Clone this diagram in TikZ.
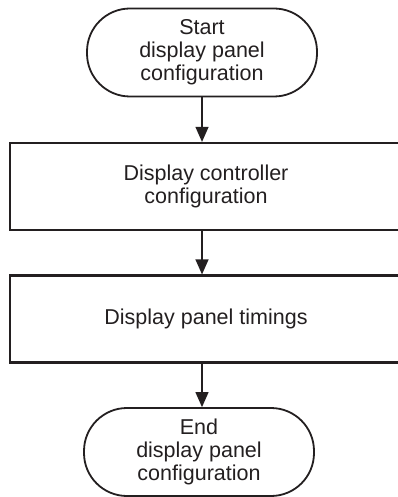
\documentclass[tikz,border=0pt]{standalone}
\usepackage{fontspec}
\setmainfont{Liberation Sans}
\usepackage{tikz}
\usetikzlibrary{arrows.meta}
\definecolor{ink}{HTML}{231F20}

\begin{document}
\begin{tikzpicture}[x=1pt,y=-1pt,
  terminal/.style={draw=ink,line width=1.8pt,rounded corners=43pt,minimum width=230pt,minimum height=88pt,align=center,inner sep=0pt},
  procbox/.style={draw=ink,line width=2.2pt,minimum width=392pt,minimum height=87pt,align=center,inner sep=0pt},
  flow/.style={draw=ink,line width=1.2pt,-{Triangle[length=15pt,width=13pt]}},
  font=\fontsize{21.5pt}{23pt}\selectfont, text=ink]
\useasboundingbox (0,0) rectangle (398,497);
\node[terminal] (start) at (202,52.5) {Start\\display panel\\configuration};
\node[procbox] (ctrl) at (206,186.5) {Display controller\\configuration};
\node[procbox] (timing) at (206,319) {Display panel timings};
\node[terminal] (end) at (199,452) {End\\display panel\\configuration};
\draw[flow] (start.south) -- (start.south |- ctrl.north);
\draw[flow] (ctrl.south -| start.south) -- (start.south |- timing.north);
\draw[flow] (timing.south -| start.south) -- (start.south |- end.north);
\end{tikzpicture}
\end{document}
